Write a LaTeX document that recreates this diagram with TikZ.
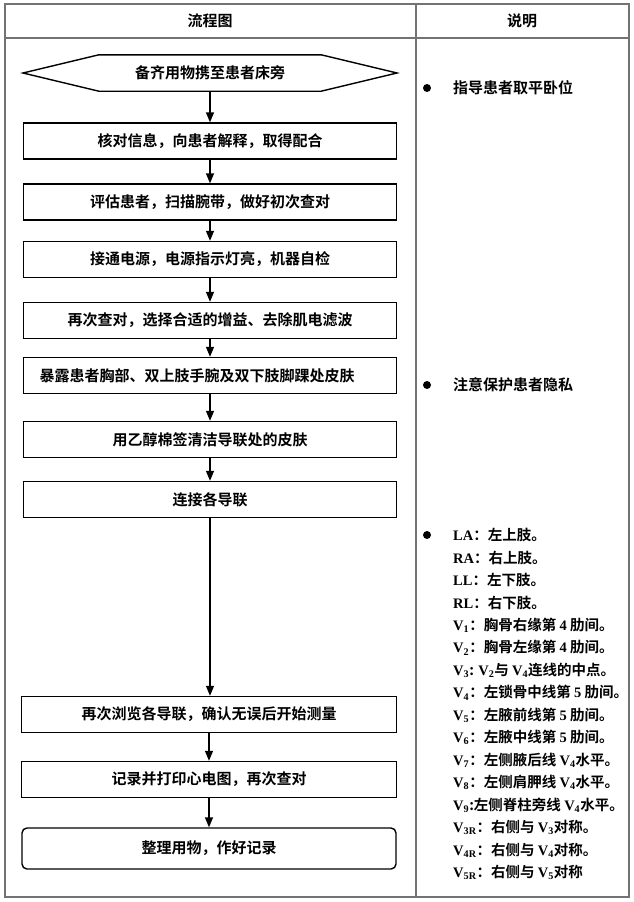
\documentclass[tikz,border=0pt]{standalone}
\usepackage{fontspec}
\setmainfont{Noto Sans CJK SC}[BoldFont=* Bold]
\newfontfamily\tnr{Liberation Serif}
\usetikzlibrary{arrows.meta}

\newcommand\latn[1]{{\tnr\bfseries #1}}
\newcommand\Vl[1]{\latn{V\textsubscript{#1}}}

\begin{document}
\begin{tikzpicture}[
  x=1pt, y=-1pt,
  >={Triangle[width=8pt,length=10pt]},
  every node/.style={font=\fontsize{15}{18}\selectfont\bfseries},
  grid/.style={draw=black!55, line width=1.2pt},
  stepbox/.style={draw, line width=1.4pt, minimum height=36pt, inner sep=0pt},
  link/.style={->, line width=1.4pt},
  dot/.style={circle, fill, inner sep=0pt, minimum size=8pt},
  note/.style={anchor=west, inner sep=0pt, text height=13.2pt, text depth=1.8pt}
]
  \useasboundingbox (0,0) rectangle (633,902);
  % table
  \draw[grid] (5,4) rectangle (629,897);
  \draw[grid] (416,4) -- (416,897);
  \draw[grid] (5,38) -- (629,38);
  \node (h1) at (210,21) {流程图};
  \node (h2) at (522,21) {说明};

  % flow
  \node[minimum width=222pt, minimum height=36pt, inner sep=0pt] (start) at (210,73) {备齐用物携至患者床旁};
  \draw[line width=1.4pt] (23,73) -- (start.north west) -- (start.north east)
    -- (397,73) -- (start.south east) -- (start.south west) -- cycle;
  \node[stepbox, minimum width=373pt] (b1) at (210,141) {核对信息，向患者解释，取得配合};
  \node[stepbox, minimum width=373pt] (b2) at (210,202) {评估患者，扫描腕带，做好初次查对};
  \node[stepbox, minimum width=373pt] (b3) at (210,259.5) {接通电源，电源指示灯亮，机器自检};
  \node[stepbox, minimum width=373pt] (b4) at (210,320.5) {再次查对，选择合适的增益、去除肌电滤波};
  \node[stepbox, minimum width=373pt] (b5) at (210,375.5) {\hspace*{-26pt}暴露患者胸部、双上肢手腕及双下肢脚踝处皮肤};
  \node[stepbox, minimum width=373pt] (b6) at (210,439.5) {用乙醇棉签清洁导联处的皮肤};
  \node[stepbox, minimum width=373pt] (b7) at (210,499.5) {连接各导联};
  \node[stepbox, minimum width=375pt] (b8) at (209,714.5) {再次浏览各导联，确认无误后开始测量};
  \node[stepbox, minimum width=375pt] (b9) at (209,779.5) {记录并打印心电图，再次查对};
  \node[stepbox, rounded corners=5pt, minimum width=374pt, minimum height=41pt] (b10) at (209,848.5) {整理用物，作好记录};
  \foreach \a/\b in {start/b1,b1/b2,b2/b3,b3/b4,b4/b5,b5/b6,b6/b7,b8/b9,b9/b10}
    \draw[link] (\a) -- (\b);
  \draw[link] (b7.south) -- (b7.south |- b8.north);

  % notes
  \node[dot] (d1) at (427,88) {};
  \node[note] (n1) at (453,88) {指导患者取平卧位};
  \node[dot] (d2) at (427,385) {};
  \node[note] (n2) at (453,385) {注意保护患者隐私};
  \node[dot] (d3) at (427,535) {};
  \foreach \t [count=\i from 0] in {
    {\latn{LA}：左上肢。},
    {\latn{RA}：右上肢。},
    {\latn{LL}：左下肢。},
    {\latn{RL}：右下肢。},
    {\Vl{1}：胸骨右缘第 \latn{4} 肋间。},
    {\Vl{2}：胸骨左缘第 \latn{4} 肋间。},
    {\Vl{3}: \Vl{2}与 \Vl{4}连线的中点。},
    {\Vl{4}：左锁骨中线第 \latn{5} 肋间。},
    {\Vl{5}：左腋前线第 \latn{5} 肋间。},
    {\Vl{6}：左腋中线第 \latn{5} 肋间。},
    {\Vl{7}：左侧腋后线 \Vl{4}水平。},
    {\Vl{8}：左侧肩胛线 \Vl{4}水平。},
    {\Vl{9}:左侧脊柱旁线 \Vl{4}水平。},
    {\Vl{3R}：右侧与 \Vl{3}对称。},
    {\Vl{4R}：右侧与 \Vl{4}对称。},
    {\Vl{5R}：右侧与 \Vl{5}对称}}
    \node[note, font=\fontsize{14.5}{17}\selectfont\bfseries] (l\i) at (453,{535+\i*22.45}) {\t};
\end{tikzpicture}
\end{document}
